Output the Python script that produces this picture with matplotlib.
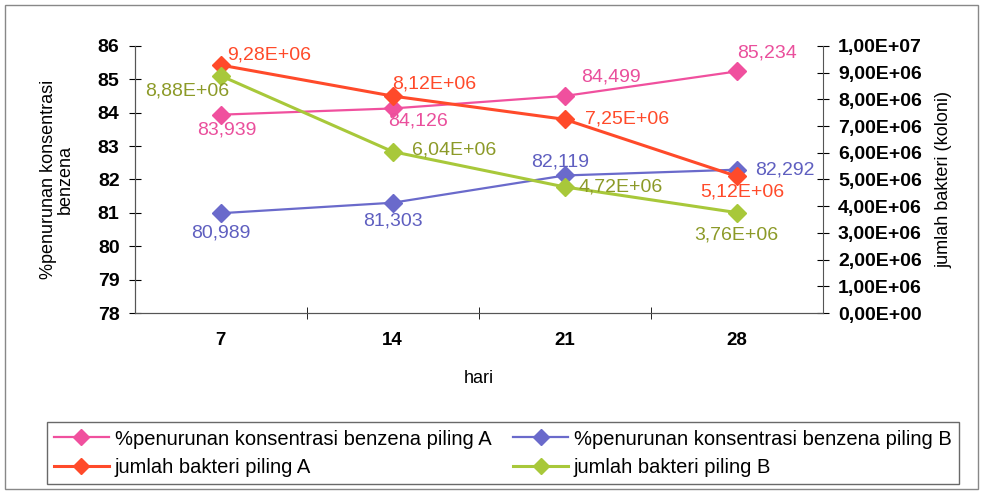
import matplotlib.pyplot as plt
from matplotlib.patches import Rectangle

plt.rcParams['font.family'] = ['Liberation Sans', 'DejaVu Sans']

hari = [7, 14, 21, 28]
benzena_A = [83.939, 84.126, 84.499, 85.234]
benzena_B = [80.989, 81.303, 82.119, 82.292]
bakteri_A = [9.28e6, 8.12e6, 7.25e6, 5.12e6]
bakteri_B = [8.88e6, 6.04e6, 4.72e6, 3.76e6]

c_pink = '#f0509e'
c_blue = '#6a6acb'
c_red = '#ff4a2a'
c_green = '#a8c83a'
t_pink = '#ea4f9c'
t_blue = '#5f5fc0'
t_red = '#ff4a2a'
t_green = '#8c9a28'


def fmt_pct(v):
    return ('%.3f' % v).replace('.', ',')


def fmt_sci(v):
    return ('%.2E' % v).replace('.', ',')


fig = plt.figure(figsize=(9.84, 4.93), dpi=100)
ax = fig.add_axes([0.137, 0.365, 0.699, 0.542])
ax2 = ax.twinx()

# kotak luar
fig.patches.append(Rectangle((0.005, 0.008), 0.989, 0.981, transform=fig.transFigure,
                             fill=False, edgecolor='#888888', linewidth=1))

ms = 9
l1, = ax.plot(hari, benzena_A, color=c_pink, marker='D', markersize=ms, linewidth=1.6,
              label='%penurunan konsentrasi benzena piling A')
l2, = ax.plot(hari, benzena_B, color=c_blue, marker='D', markersize=ms, linewidth=1.6,
              label='%penurunan konsentrasi benzena piling B')
l3, = ax2.plot(hari, bakteri_A, color=c_red, marker='D', markersize=ms, linewidth=2.2,
               label='jumlah bakteri piling A')
l4, = ax2.plot(hari, bakteri_B, color=c_green, marker='D', markersize=ms, linewidth=2.2,
               label='jumlah bakteri piling B')

ax.set_xlim(3.5, 31.5)
ax.set_ylim(78, 86)
ax2.set_ylim(0, 1e7)

ax.set_yticks(range(78, 87))
ax.tick_params(axis='y', direction='inout', length=8, labelsize=14, pad=7)
ax.set_xticks(hari)
ax.set_xticklabels([str(h) for h in hari])
ax.tick_params(axis='x', length=0, labelsize=13.5, pad=14)
ax.set_xticks([10.5, 17.5, 24.5], minor=True)
ax.tick_params(axis='x', which='minor', direction='inout', length=8)

ax2.set_yticks([i * 1e6 for i in range(11)])
ax2.set_yticklabels([fmt_sci(i * 1e6) for i in range(11)])
ax2.tick_params(axis='y', direction='inout', length=8, labelsize=14, pad=7)

for lab in ax.get_xticklabels() + ax.get_yticklabels() + ax2.get_yticklabels():
    lab.set_fontweight('bold')

for a in (ax, ax2):
    a.spines['top'].set_visible(False)
    for s in ('left', 'right', 'bottom'):
        a.spines[s].set_color('#555555')
ax.spines['right'].set_visible(False)

ax.set_xlabel('hari', fontsize=13, labelpad=15)
ax.set_ylabel('%penurunan konsentrasi\nbenzena', fontsize=13, linespacing=1.05, labelpad=17)
ax2.set_ylabel('jumlah bakteri (koloni)', fontsize=13, labelpad=10)

fs = 14
offs_A = [(4, -11), (18, -9), (33, 14), (22, 13)]
for x, y, o in zip(hari, benzena_A, offs_A):
    ax.annotate(fmt_pct(y), (x, y), xytext=o, textcoords='offset points',
                ha='center', va='center', color=t_pink, fontsize=fs)
offs_B = [(0, -14), (0, -13), (-3, 10), (35, 0)]
for x, y, o in zip(hari, benzena_B, offs_B):
    ax.annotate(fmt_pct(y), (x, y), xytext=o, textcoords='offset points',
                ha='center', va='center', color=t_blue, fontsize=fs)
offs_RA = [(35, 7), (30, 9), (45, 0), (4, -11)]
for x, y, o in zip(hari, bakteri_A, offs_RA):
    ax2.annotate(fmt_sci(y), (x, y), xytext=o, textcoords='offset points',
                 ha='center', va='center', color=t_red, fontsize=fs)
offs_GB = [(-24, -11), (44, 1), (40, 0), (0, -16)]
for x, y, o in zip(hari, bakteri_B, offs_GB):
    ax2.annotate(fmt_sci(y), (x, y), xytext=o, textcoords='offset points',
                 ha='center', va='center', color=t_green, fontsize=fs)

leg = fig.legend([l1, l3, l2, l4], [h.get_label() for h in (l1, l3, l2, l4)],
                 ncol=2, loc='center', bbox_to_anchor=(0.511, 0.081),
                 prop={'size': 14.5}, frameon=True, fancybox=False, edgecolor='#444444',
                 handlelength=2.7, handletextpad=0.3, columnspacing=1.1,
                 borderpad=0.35, labelspacing=0.45, markerscale=0.85)
leg.get_frame().set_linewidth(1)

fig.savefig('out.png', dpi=100)
